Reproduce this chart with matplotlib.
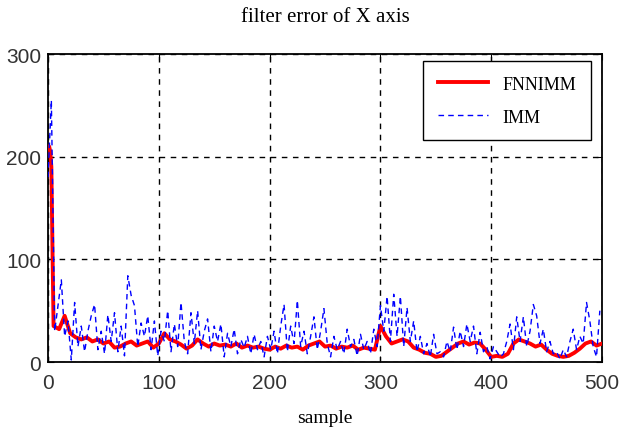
import numpy as np
import matplotlib
matplotlib.use("Agg")
import matplotlib.pyplot as plt

# ----------------
# Data
# ----------------
# FNNIMM: first few samples, then every 5 samples from 5 to 500
fnn_head = [210, 210, 205, 190]
fnn_body = [35, 32, 45, 28, 24, 22, 24, 20, 22, 18, 20, 14, 15, 18, 20, 16, 18, 20, 14, 18,
            28, 22, 20, 17, 13, 16, 22, 18, 15, 18, 16, 17, 15, 18, 14, 16, 14, 15, 13, 12,
            15, 13, 16, 14, 15, 12, 16, 18, 20, 15, 16, 13, 15, 14, 16, 12, 14, 13, 12, 35,
            25, 18, 20, 22, 20, 14, 12, 9, 8, 5, 6, 10, 14, 18, 20, 17, 19, 18, 12, 5,
            6, 5, 8, 18, 22, 20, 18, 15, 17, 12, 8, 6, 5, 6, 9, 13, 18, 20, 16, 18]

# IMM: every 3 samples from 0 to 498
imm_vals = [180, 255, 30, 55, 80, 25, 40, 2, 58, 15, 35, 10, 30, 45, 56, 12, 30, 8, 46, 20,
            48, 10, 35, 6, 84, 65, 55, 15, 38, 25, 45, 12, 40, 6,
            30, 20, 50, 10, 37, 15, 58, 20, 8, 48, 18, 50, 12, 30, 42, 10, 35, 20, 37, 5,
            28, 15, 32, 8, 22, 14, 25, 8, 27, 12, 20, 5, 25,
            12, 30, 8, 35, 56, 10, 35, 18, 60, 15, 30, 8, 25, 44, 12, 30, 52, 18, 5, 25,
            12, 20, 8, 32, 15, 22, 6, 27, 12, 20, 8, 32, 15,
            55, 30, 64, 20, 66, 25, 64, 15, 53, 20, 40, 10, 25, 8, 18, 5, 27, 8, 10, 5,
            20, 10, 34, 12, 30, 15, 37, 20, 35, 8, 29, 10, 15, 3,
            15, 10, 5, 8, 20, 37, 12, 44, 20, 44, 15, 30, 56, 45, 18, 32, 10, 20, 8, 10,
            3, 12, 5, 20, 32, 12, 25, 18, 58, 40, 15, 5, 50]

x_ticks = [0, 100, 200, 300, 400, 500]
y_ticks = [0, 100, 200, 300]

fnn_x = np.concatenate([np.arange(len(fnn_head)), 5 * np.arange(1, len(fnn_body) + 1)])
fnn_y = np.array(fnn_head + fnn_body)
imm_x = 3 * np.arange(len(imm_vals))
imm_y = np.array(imm_vals)

# ----------------
# Plot
# ----------------
tick_font = ["Liberation Sans Narrow", "Liberation Sans", "DejaVu Sans"]
serif_font = ["Liberation Serif", "DejaVu Serif"]

fig = plt.figure(figsize=(6.27, 4.35), dpi=100)
ax = fig.add_axes([0.0766, 0.1655, 0.8836, 0.708])

ax.plot(fnn_x, fnn_y, color="#ff0000", lw=2.8, label="FNNIMM", zorder=3)
ax.plot(imm_x, imm_y, color="#0000ff", lw=1.0, ls=(0, (4, 3)), label="IMM", zorder=4)

ax.set_xlim(0, 500)
ax.set_ylim(0, 300)
ax.set_xticks(x_ticks)
ax.set_yticks(y_ticks)
ax.grid(True, color="black", ls=(0, (4, 4)), lw=1.0)
ax.tick_params(direction="in", top=True, right=True, length=4, labelsize=15,
               labelcolor="#333333")
ax.tick_params(axis="x", pad=8)
ax.tick_params(axis="y", pad=5)
for lab in ax.get_xticklabels() + ax.get_yticklabels():
    lab.set_family(tick_font)
for sp in ax.spines.values():
    sp.set_linewidth(1.3)

ax.set_title("filter error of X axis", family=serif_font, fontsize=15, pad=24)
ax.set_xlabel("sample", family=serif_font, fontsize=14, labelpad=12)

leg = ax.legend(loc="upper right", bbox_to_anchor=(0.98, 0.977), borderaxespad=0,
                fancybox=False, framealpha=1, edgecolor="black",
                prop={"family": serif_font, "size": 13},
                handlelength=2.8, labelspacing=0.9, borderpad=0.8)
leg.get_frame().set_linewidth(1.0)

fig.savefig("out.png", dpi=100)
